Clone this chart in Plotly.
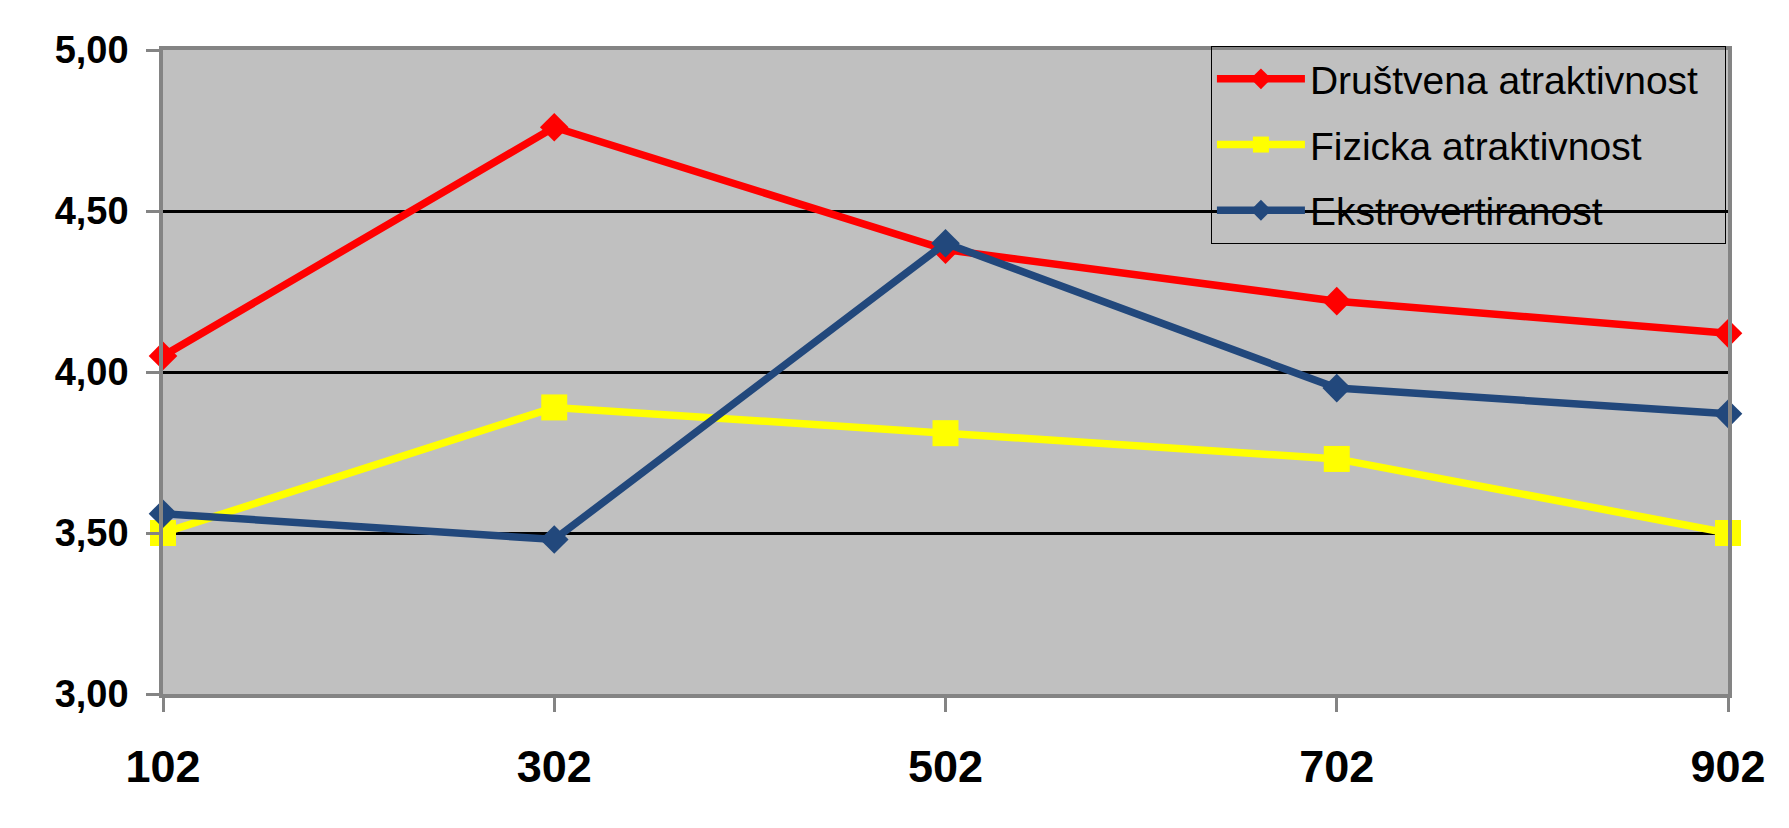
import plotly.graph_objects as go

categories = ["102", "302", "502", "702", "902"]
drustvena = [4.05, 4.76, 4.38, 4.22, 4.12]
fizicka = [3.50, 3.89, 3.81, 3.73, 3.50]
ekstro = [3.56, 3.48, 4.40, 3.95, 3.87]

series = [
    ("Društvena atraktivnost\u00a0\u00a0", drustvena, "#FF0000", "diamond", 22),
    ("Fizicka atraktivnost", fizicka, "#FFFF00", "square", 26),
    ("Ekstrovertiranost", ekstro, "#22487C", "diamond", 22),
]

fig = go.Figure()
for i, (name, vals, col, sym, sz) in enumerate(series):
    fig.add_trace(go.Scatter(
        x=categories, y=vals, name=name, mode="lines+markers",
        line=dict(color=col, width=7.5),
        marker=dict(color=col, symbol=sym, size=sz),
        legendgroup=f"g{i}", cliponaxis=False,
    ))

FONT = "Liberation Sans, Arial, sans-serif"
fig.update_layout(
    width=1789, height=828,
    margin=dict(l=155, r=69, t=42, b=142),
    paper_bgcolor="white", plot_bgcolor="#C0C0C0",
    separators=",.",
    hovermode=False,
    font=dict(family=FONT, color="black"),
    legend=dict(
        x=0.6696, y=1.0062, xanchor="left", yanchor="top",
        bgcolor="rgba(0,0,0,0)", bordercolor="black", borderwidth=1,
        font=dict(family=FONT, size=39, color="black"),
        itemwidth=88, tracegroupgap=12, traceorder="grouped",
    ),
    xaxis=dict(
        type="category", categoryorder="array", categoryarray=categories,
        range=[0, 4], showgrid=False, zeroline=False,
        showline=True, mirror=True, linecolor="#848484", linewidth=3.5,
        ticks="outside", ticklen=14, tickwidth=3, tickcolor="#848484",
        tickfont=dict(family=FONT, size=45, color="black", weight="bold"),
        ticklabelstandoff=16,
    ),
    yaxis=dict(
        range=[3, 5], dtick=0.5, tick0=3, tickformat=".2f",
        showgrid=True, gridcolor="black", gridwidth=3, zeroline=False,
        showline=True, mirror=True, linecolor="#848484", linewidth=3.5,
        ticks="outside", ticklen=13, tickwidth=3, tickcolor="#848484",
        tickfont=dict(family=FONT, size=38, color="black", weight="bold"),
        ticklabelstandoff=10,
    ),
)

fig.write_html("out.html")
